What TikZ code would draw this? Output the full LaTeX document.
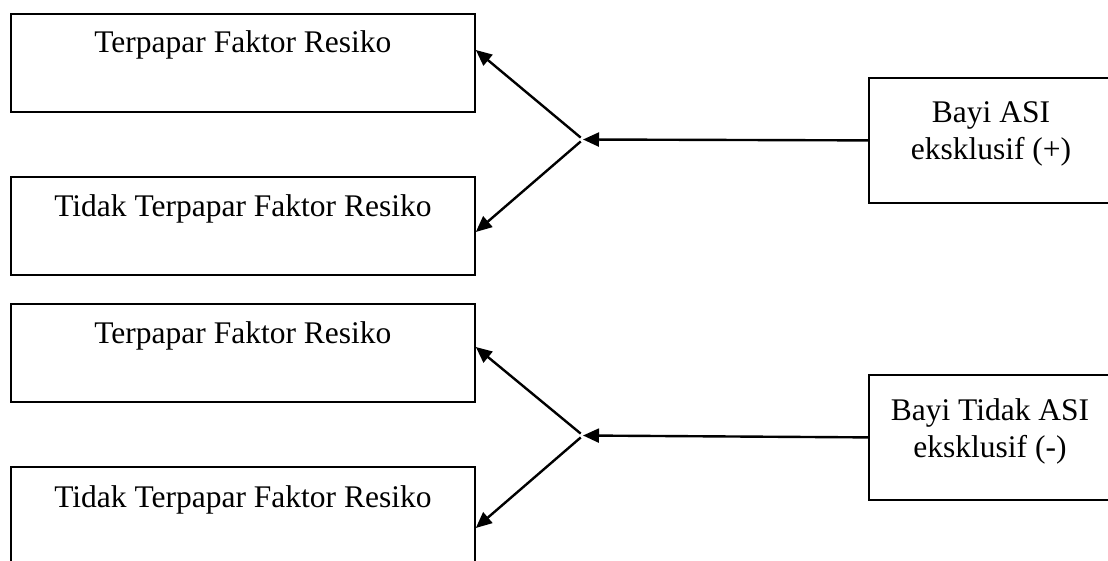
\documentclass[tikz,border=0pt]{standalone}
\usepackage{fontspec}
\setmainfont{Liberation Serif}
\usetikzlibrary{arrows.meta}

\begin{document}
\begin{tikzpicture}[x=1pt, y=-1pt,
  box/.style={draw, line width=1.8pt, rectangle, inner sep=0pt,
              minimum width=464pt, minimum height=98pt, anchor=north west},
  groupbox/.style={draw, line width=1.8pt, rectangle, inner sep=0pt,
              minimum width=244pt, minimum height=125pt, anchor=north west},
  lbl/.style={anchor=base, inner sep=0pt, font=\fontsize{31.5}{37}\selectfont},
  link/.style={line width=2.4pt, -{Triangle[length=16pt, width=14pt]}}
]
\useasboundingbox (0,0) rectangle (1108,561);
\clip (0,0) rectangle (1108,561);

% outcome boxes on the left
\node[box] (b1) at (10,13)  {};
\node[box] (b2) at (10,176) {};
\node[box] (b3) at (10,303) {};
\node[box] (b4) at (10,466) {};

\node[lbl] (t1) at ([yshift=-40pt]b1.north) {Terpapar Faktor Resiko};
\node[lbl] (t2) at ([yshift=-41pt]b2.north) {Tidak Terpapar Faktor Resiko};
\node[lbl] (t3) at ([yshift=-40pt]b3.north) {Terpapar Faktor Resiko};
\node[lbl] (t4) at ([yshift=-41pt]b4.north) {Tidak Terpapar Faktor Resiko};

% exposure groups on the right
\node[groupbox] (r1) at (868,77)  {};
\node[groupbox] (r2) at (868,374) {};

\node[lbl] (r1a) at (991,123) {Bayi ASI};
\node[lbl] (r1b) at (991,160) {eksklusif (+)};
\node[lbl] (r2a) at (990,420) {Bayi Tidak ASI};
\node[lbl] (r2b) at (990,457) {eksklusif (-)};

% branching points
\coordinate (j1) at (583,139.5);
\coordinate (j2) at (583,435.5);

% connectors
\draw[link] (r1.west) -- (j1);
\draw[link, shorten <=3pt] (j1) -- ([yshift=-37pt]b1.north east);
\draw[link, shorten <=3pt] (j1) -- ([yshift=-56pt]b2.north east);

\draw[link] (r2.west) -- (j2);
\draw[link, shorten <=3pt] (j2) -- ([yshift=-44pt]b3.north east);
\draw[link, shorten <=3pt] (j2) -- ([yshift=-62pt]b4.north east);
\end{tikzpicture}
\end{document}
